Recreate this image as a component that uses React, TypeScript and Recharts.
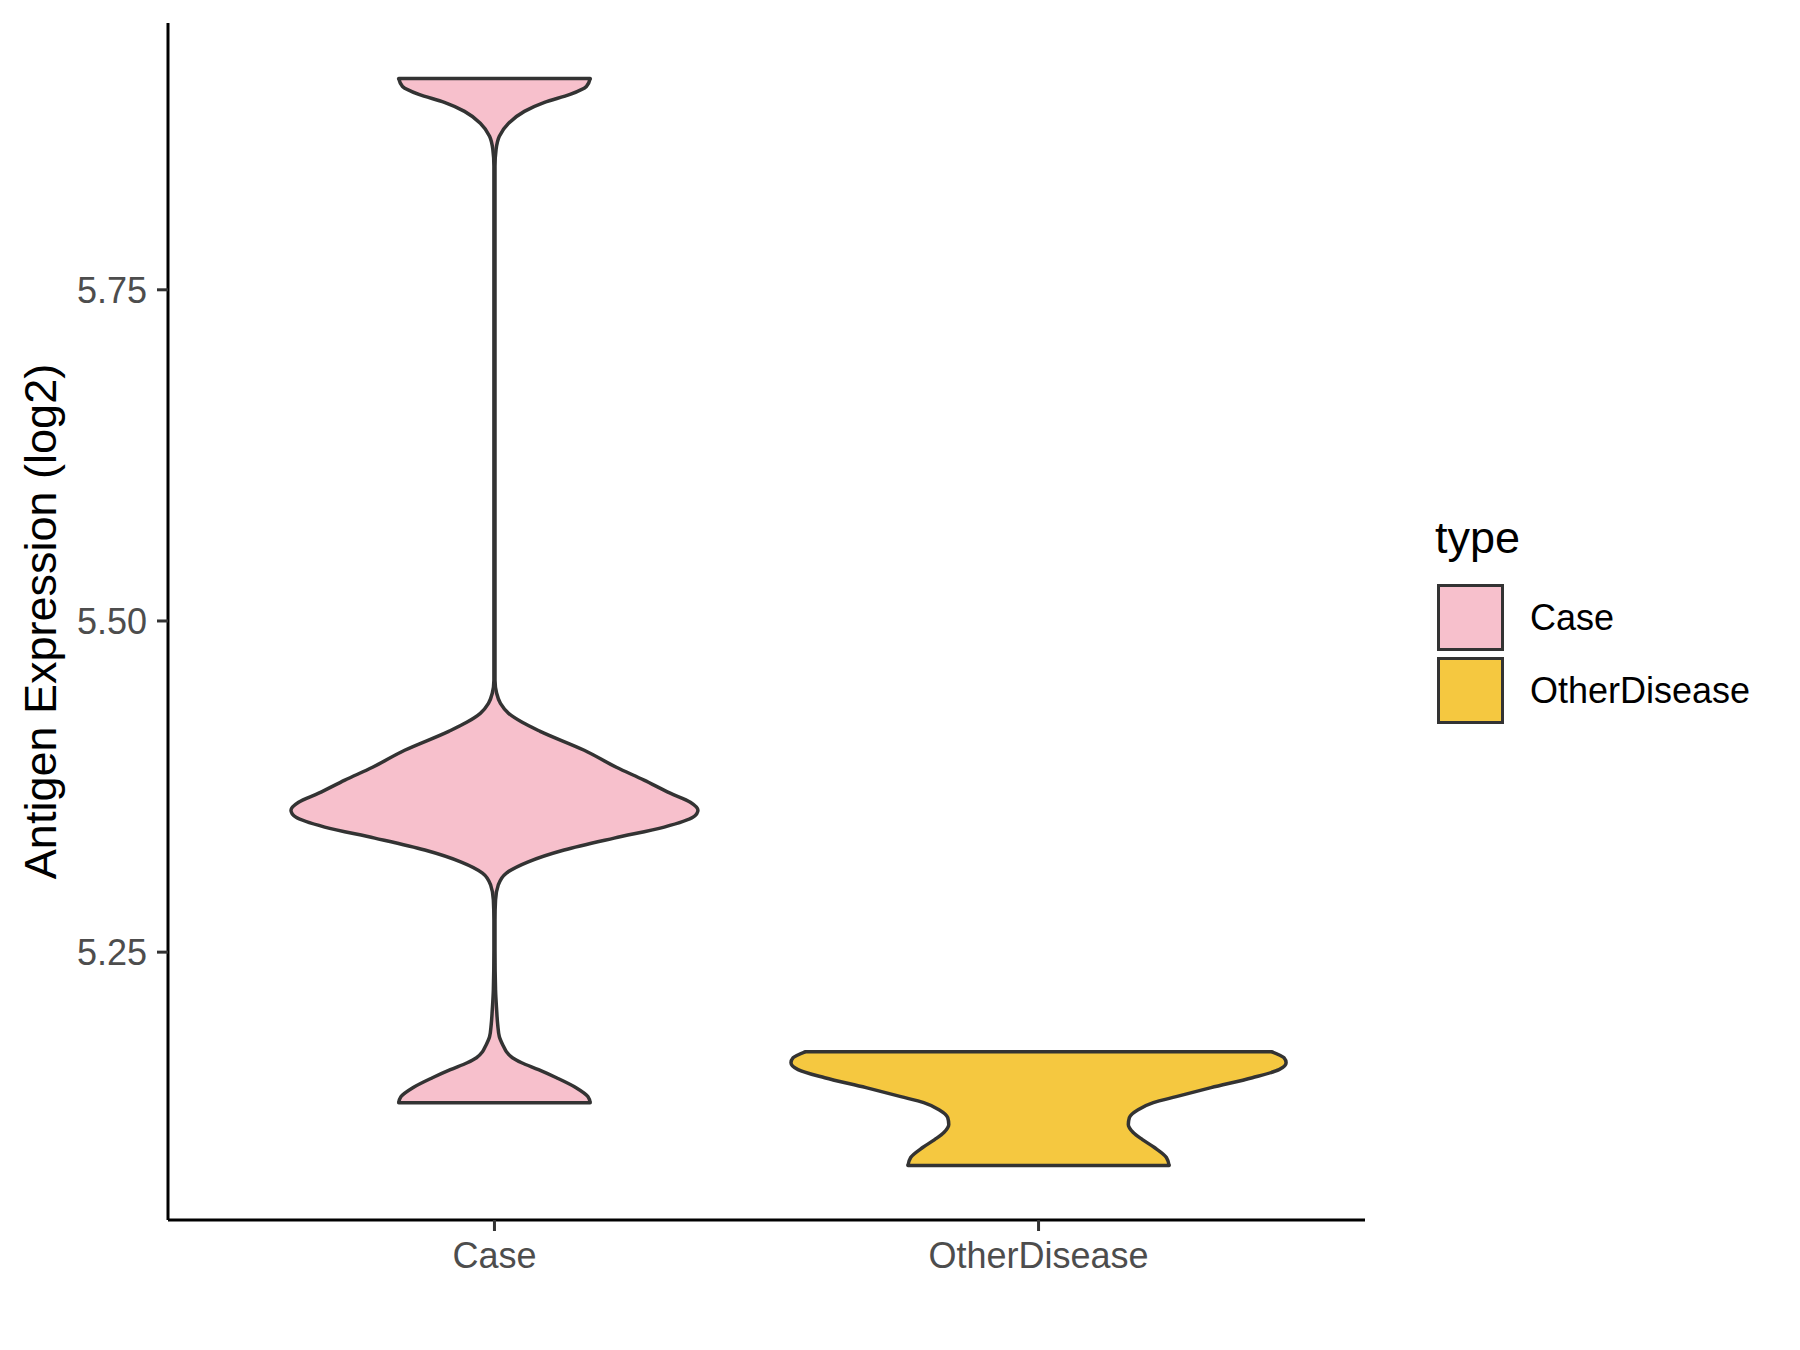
import { ComposedChart, Area, XAxis, YAxis, ReferenceLine, Legend } from "recharts";

const groups = ["Case", "OtherDisease"];
const groupPositions = [1, 2];

// expression levels (log2) where the violin outline was read, top to bottom
const levels = [
  5.9095, 5.9035, 5.8975, 5.8915, 5.8847, 5.8757, 5.8659, 5.856, 5.8433,
  5.75, 5.65, 5.55,
  5.4552, 5.4454, 5.4378, 5.4303, 5.4235, 5.4167, 5.4024, 5.3896, 5.3798,
  5.37, 5.3632, 5.3572, 5.3519, 5.3444, 5.3361, 5.3271, 5.318, 5.3097,
  5.3007, 5.2894, 5.2743, 5.2517, 5.2215, 5.2065, 5.1952, 5.1861, 5.1786,
  5.1748, 5.1703, 5.1665, 5.1613, 5.1552, 5.1477, 5.1409, 5.1364,
  5.1311, 5.1251, 5.1198, 5.1138, 5.1085, 5.1025, 5.095, 5.0889,
];

// half width of each violin at those levels (x-axis units, null = outside range)
const caseHalfWidth = [
  0.176, 0.169, 0.139, 0.092, 0.055, 0.026, 0.009, 0.003, 0.001,
  0.001, 0.001, 0.001,
  0.001, 0.004, 0.011, 0.026, 0.051, 0.084, 0.165, 0.224, 0.275,
  0.323, 0.36, 0.374, 0.365, 0.312, 0.22, 0.128, 0.061, 0.022,
  0.007, 0.002, 0.001, 0.001, 0.002, 0.004, 0.006, 0.009, 0.017,
  0.022, 0.033, 0.05, 0.081, 0.114, 0.15, 0.172, 0.176,
  null, null, null, null, null, null, null, null,
];

const otherHalfWidth = [
  null, null, null, null, null, null, null, null, null,
  null, null, null,
  null, null, null, null, null, null, null, null, null,
  null, null, null, null, null, null, null, null, null,
  null, null, null, null, null, null, null, null, null,
  0.429, 0.451, 0.455, 0.442, 0.393, 0.317, 0.253, 0.211,
  0.183, 0.167, 0.165, 0.174, 0.191, 0.213, 0.235, 0.24,
];

const yTicks = [5.25, 5.5, 5.75];

const widths = [caseHalfWidth, otherHalfWidth];
const fills = ["#F7C0CC", "#F5C840"];
const outline = "#333333";
const font = '"Liberation Sans", Arial, Helvetica, sans-serif';

const rows = levels.map((v, i) => ({
  v,
  Case: caseHalfWidth[i],
  OtherDisease: otherHalfWidth[i],
}));

// flat ends of the trimmed violins
const caps = groups.flatMap((g, gi) => {
  const w = widths[gi];
  const idx = w.map((d, i) => (d == null ? -1 : i)).filter((i) => i >= 0);
  const pos = groupPositions[gi];
  return [idx[0], idx[idx.length - 1]].map((i) => ({
    key: `${g}-${i}`,
    v: levels[i],
    lo: pos - (w[i] as number),
    hi: pos + (w[i] as number),
  }));
});

const renderLegend = (props: any) => {
  const payload = props.payload || [];
  return (
    <div style={{ position: "relative", width: 360, height: 240, fontFamily: font }}>
      <div style={{ position: "absolute", left: 0, top: 12, fontSize: 45, lineHeight: "52px", color: "#000" }}>
        type
      </div>
      {payload.map((entry: any, i: number) => (
        <div
          key={entry.value}
          style={{ position: "absolute", left: 2, top: 84 + i * 73, height: 67, display: "flex", alignItems: "center" }}
        >
          <div
            style={{
              width: 67,
              height: 67,
              boxSizing: "border-box",
              border: `3.5px solid ${outline}`,
              background: fills[groups.indexOf(entry.value)],
            }}
          />
          <span style={{ marginLeft: 26, fontSize: 36, color: "#000" }}>{entry.value}</span>
        </div>
      ))}
    </div>
  );
};

export default function App() {
  return (
    <div style={{ position: "absolute", left: 0, top: 0, background: "#fff" }}>
      <ComposedChart
        width={1800}
        height={1350}
        data={rows}
        layout="vertical"
        margin={{ top: 23, right: 435, bottom: 50, left: 0 }}
      >
        <XAxis
          type="number"
          domain={[0.4, 2.6]}
          allowDataOverflow
          ticks={groupPositions}
          tickFormatter={(p: number) => groups[groupPositions.indexOf(p)] ?? ""}
          height={80}
          axisLine={{ stroke: "#000", strokeWidth: 3 }}
          tickLine={{ stroke: outline, strokeWidth: 3 }}
          tickSize={11}
          tickMargin={11}
          tick={{ fill: "#4D4D4D", fontSize: 36, fontFamily: font }}
        />
        <YAxis
          type="number"
          dataKey="v"
          reversed
          domain={[5.0478, 5.9514]}
          allowDataOverflow
          ticks={yTicks}
          tickFormatter={(v: number) => v.toFixed(2)}
          width={168}
          axisLine={{ stroke: "#000", strokeWidth: 3 }}
          tickLine={{ stroke: outline, strokeWidth: 3 }}
          tickSize={11}
          tickMargin={10}
          tick={{ fill: "#4D4D4D", fontSize: 36, fontFamily: font }}
          label={{
            value: "Antigen Expression (log2)",
            angle: -90,
            position: "center",
            dx: -44,
            fill: "#000",
            fontSize: 45,
            fontFamily: font,
          }}
        />
        {groups.map((g, gi) => (
          <Area
            key={g}
            name={g}
            type="monotone"
            dataKey={(row: any) =>
              row[g] == null
                ? [null, null]
                : [groupPositions[gi] - row[g], groupPositions[gi] + row[g]]
            }
            fill={fills[gi]}
            fillOpacity={1}
            stroke={outline}
            strokeWidth={3.5}
            legendType="square"
            isAnimationActive={false}
            dot={false}
            activeDot={false}
          />
        ))}
        {caps.map((c) => (
          <ReferenceLine
            key={c.key}
            segment={[
              { x: c.lo, y: c.v },
              { x: c.hi, y: c.v },
            ]}
            stroke={outline}
            strokeWidth={3.5}
            strokeLinecap="round"
          />
        ))}
        <Legend
          layout="vertical"
          align="center"
          verticalAlign="middle"
          wrapperStyle={{ left: 1435, top: 500, width: 360, height: 240 }}
          content={renderLegend}
        />
      </ComposedChart>
    </div>
  );
}
